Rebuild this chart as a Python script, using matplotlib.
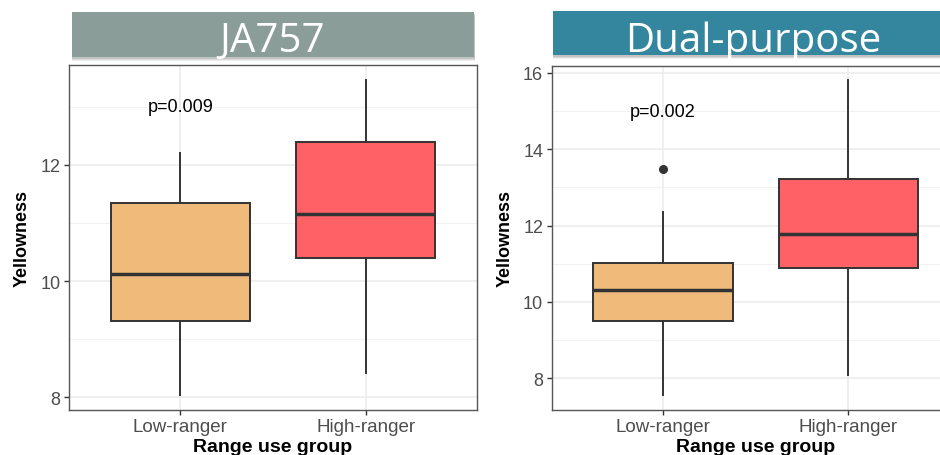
import matplotlib.pyplot as plt
from matplotlib.patches import Rectangle
from matplotlib.ticker import MultipleLocator

plt.rcParams['font.family'] = ['Liberation Sans', 'DejaVu Sans']

# data
groups = ["Low-ranger", "High-ranger"]
box_colors = ["#F0BA7A", "#FF6166"]

ja_whislo = [8.04, 8.41]
ja_q1 = [9.31, 10.40]
ja_med = [10.13, 11.15]
ja_q3 = [11.34, 12.39]
ja_whishi = [12.20, 13.46]
ja_fliers = [[], []]
ja_pval = "p=0.009"

dp_whislo = [7.57, 8.09]
dp_q1 = [9.49, 10.90]
dp_med = [10.32, 11.79]
dp_q3 = [11.01, 13.21]
dp_whishi = [12.35, 15.82]
dp_fliers = [[13.49], []]
dp_pval = "p=0.002"

W, H = 940, 456
fig = plt.figure(figsize=(W / 100, H / 100), dpi=100)


def px_axes(x0, y0, x1, y1):
    # pixel box (top-left origin) -> figure axes
    return fig.add_axes([x0 / W, 1 - y1 / H, (x1 - x0) / W, (y1 - y0) / H])


def panel(ax, whislo, q1, med, q3, whishi, fliers, pval, ylim, yticks, ptext_y):
    stats = []
    for i in range(len(groups)):
        stats.append(dict(whislo=whislo[i], q1=q1[i], med=med[i], q3=q3[i],
                          whishi=whishi[i], fliers=fliers[i]))
    bp = ax.bxp(stats, positions=[1, 2], widths=0.75, patch_artist=True,
                showcaps=False,
                boxprops=dict(edgecolor="#333333", linewidth=1.4),
                medianprops=dict(color="#333333", linewidth=2.5),
                whiskerprops=dict(color="#333333", linewidth=1.4),
                flierprops=dict(marker="o", markersize=5.5, markerfacecolor="#333333",
                                markeredgecolor="#333333"))
    for patch, c in zip(bp["boxes"], box_colors):
        patch.set_facecolor(c)
        patch.set_zorder(3)
    for key in ("medians", "whiskers", "fliers"):
        for a in bp[key]:
            a.set_zorder(4)

    ax.set_xlim(0.4, 2.6)
    ax.set_ylim(*ylim)
    ax.set_xticks([1, 2])
    ax.set_xticklabels(groups)
    ax.set_yticks(yticks)
    ax.yaxis.set_minor_locator(MultipleLocator(1))
    ax.grid(True, which="major", color="#EBEBEB", linewidth=1.1, zorder=0)
    ax.grid(True, which="minor", axis="y", color="#F2F2F2", linewidth=0.8, zorder=0)
    ax.set_axisbelow(True)
    ax.tick_params(axis="both", which="major", length=3.6, width=1.0, color="#333333",
                   labelcolor="#4D4D4D", labelsize=13, pad=2.5)
    ax.tick_params(axis="x", which="major", labelsize=13.5)
    ax.tick_params(axis="y", which="minor", length=0)
    for s in ax.spines.values():
        s.set_color("#555555")
        s.set_linewidth(1.0)

    ax.set_ylabel("Yellowness", fontsize=13, fontweight="bold", ha="center", va="center")
    ax.yaxis.set_label_coords(-0.114, 0.5)
    ax.set_xlabel("Range use group", fontsize=14, fontweight="bold", va="baseline")
    ax.xaxis.set_label_coords(0.5, -41 / 345)

    ax.text(1, ptext_y, pval, ha="center", va="center", fontsize=13, color="black")


def header(x0, y0, x1, y1, color, label, text_x):
    # soft shadow then the box
    for k, a in ((4, 0.12), (3, 0.18), (2, 0.25)):
        fig.patches.append(Rectangle((x0 / W, 1 - (y1 + k) / H), (x1 - x0 + 1) / W, (y1 - y0) / H,
                                     transform=fig.transFigure, facecolor="#7F7F7F",
                                     alpha=a, edgecolor="none", zorder=1))
    fig.patches.append(Rectangle((x0 / W, 1 - y1 / H), (x1 - x0) / W, (y1 - y0) / H,
                                 transform=fig.transFigure, facecolor=color,
                                 edgecolor="none", zorder=2))
    fig.text(text_x / W, 1 - 52 / H, label, ha="center", va="baseline", color="white",
             fontsize=29, family=["Open Sans", "DejaVu Sans"], zorder=3)


ax1 = px_axes(69, 66, 477, 411)
panel(ax1, ja_whislo, ja_q1, ja_med, ja_q3, ja_whishi, ja_fliers, ja_pval,
      (7.78, 13.72), [8, 10, 12], 13.0)

ax2 = px_axes(551.7, 66.7, 959.7, 411)
panel(ax2, dp_whislo, dp_q1, dp_med, dp_q3, dp_whishi, dp_fliers, dp_pval,
      (7.17, 16.19), [8, 10, 12, 14, 16], 15.0)

header(72, 13, 474, 57.5, "#8A9D98", "JA757", 272)
header(553, 12.5, 955, 56, "#33869D", "Dual-purpose", 753)

fig.savefig("out.png", dpi=100)
